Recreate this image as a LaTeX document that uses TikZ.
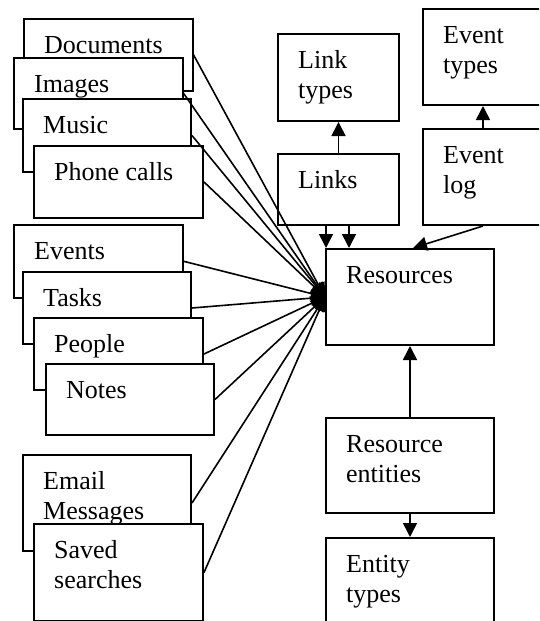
\documentclass[tikz,border=0pt]{standalone}
\usepackage{fontspec}
\setmainfont{Liberation Serif}
\usetikzlibrary{arrows.meta,calc}
\tikzset{
  box/.style={draw, fill=white, line width=2pt, anchor=north west, inner sep=0pt},
  thinbox/.style={box, line width=1.5pt},
  lbl/.style={anchor=base west, inner sep=0pt, font=\fontsize{26}{30}\selectfont},
  conn/.style={line width=1.6pt, -{Triangle[length=14pt,width=14pt]}},
}
\newcommand\mybox[7]{%
  \node[#2, minimum width=#5pt, minimum height=#6pt] (#1) at (#3,#4) {};
  \node[lbl] (#1-t) at ([shift={(21pt,-35pt)}]#1.north west) {\begin{tabular}[t]{@{}l@{}}#7\end{tabular}};
}
\begin{document}
\begin{tikzpicture}[x=1pt,y=-1pt]
\clip (0,0) rectangle (539,621);
\fill[white] (0,0) rectangle (539,621);
% left group 1
\mybox{docs}{thinbox}{23}{18}{169}{72}{Documents}
\mybox{imgs}{thinbox}{13}{57}{169}{71}{Images}
\mybox{music}{box}{22}{98}{168}{73}{Music}
\mybox{phone}{box}{33}{145}{169}{72}{Phone calls}
% left group 2
\mybox{events}{thinbox}{13}{224}{169}{73}{Events}
\mybox{tasks}{box}{22}{271}{168}{72}{Tasks}
\mybox{people}{box}{33}{317}{169}{72}{People}
\mybox{notes}{box}{45}{363}{168}{71}{Notes}
% left group 3
\mybox{email}{box}{22}{454}{168}{96}{Email\\Messages}
\mybox{saved}{box}{33}{523}{169}{97}{Saved\\searches}
% right side
\mybox{ltypes}{box}{277}{33}{121}{87}{Link\\types}
\mybox{links}{box}{277}{153}{121}{71}{Links}
\mybox{etypes}{box}{422}{8}{120}{96}{Event\\types}
\mybox{elog}{box}{422}{128}{120}{96}{Event\\log}
\mybox{res}{box}{325}{248}{168}{96}{Resources}
\mybox{rent}{box}{325}{417}{168}{95}{Resource\\entities}
\mybox{enttypes}{box}{325}{537}{168}{96}{Entity\\types}
% connectors into Resources
\foreach \n in {docs,imgs,music,phone,events,tasks,people,notes,email,saved}
  \draw[conn] (\n.east) -- (res.west);
\draw[conn] (links.north) -- (ltypes.south);
\draw[conn] ([xshift=49pt]links.south west) -- ([xshift=49pt]links.south west |- res.north);
\draw[conn] ([xshift=72pt]links.south west) -- ([xshift=72pt]links.south west |- res.north);
\draw[conn] (elog.north) -- (etypes.south);
\draw[conn] (elog.south) -- ([xshift=3pt]res.north);
\draw[conn] (rent.north) -- (res.south);
\draw[conn] (rent.south) -- (enttypes.north);
\end{tikzpicture}
\end{document}
